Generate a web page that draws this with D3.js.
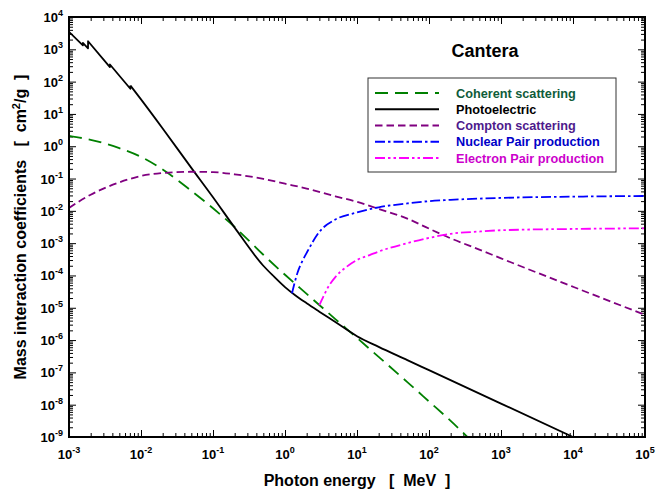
<!DOCTYPE html>
<html>
<head>
<meta charset="utf-8">
<script src="https://cdn.jsdelivr.net/npm/d3@7"></script>
<style>
  html, body { margin: 0; padding: 0; background: #fff; }
  svg { display: block; font-family: "Liberation Sans", Arial, sans-serif; }
</style>
</head>
<body>
<svg id="chart" width="666" height="492"></svg>
<script>
// ---------------- DATA ----------------
const title = "Cantera";
const xTickExps = [-3, -2, -1, 0, 1, 2, 3, 4, 5];
const yTickExps = [4, 3, 2, 1, 0, -1, -2, -3, -4, -5, -6, -7, -8, -9];

const coherentE = [1e-3, 2e-3, 5e-3, 0.01, 0.02, 0.05, 0.1, 0.2, 0.5, 1, 2, 5, 10, 20, 50, 100, 200, 500, 1000];
const coherentV = [2.09, 1.58, 0.871, 0.468, 0.191, 0.0417, 0.0120, 3.16e-3, 4.37e-4, 1.05e-4, 2.69e-5, 4.47e-6, 1.17e-6, 3.02e-7, 5.01e-8, 1.26e-8, 3.16e-9, 4.47e-10, 1.12e-10];

// absorption-edge part (drawn with straight segments)
const photoEdgeE = [1e-3, 1.559e-3, 1.5595e-3, 1.838e-3, 1.8395e-3, 3.7e-3, 3.702e-3, 7.11e-3, 7.113e-3];
const photoEdgeV = [3.47e3, 1.32e3, 1.58e3, 1.07e3, 1.78e3, 2.82e2, 3.39e2, 60.3, 75.9];
// smooth part
const photoE = [7.113e-3, 0.01, 0.02, 0.05, 0.1, 0.2, 0.5, 0.7, 1, 1.4, 2, 3, 5, 10, 20, 50, 100, 1000, 1e4, 1e5];
const photoV = [75.9, 28.2, 3.55, 0.214, 0.0263, 3.02e-3, 2.0e-4, 9.33e-5, 4.37e-5, 2.40e-5, 1.38e-5, 7.59e-6, 3.63e-6, 1.32e-6, 6.17e-7, 2.40e-7, 1.17e-7, 1.08e-8, 1.0e-9, 9.3e-11];

const comptonE = [1e-3, 2e-3, 5e-3, 0.01, 0.02, 0.05, 0.1, 0.2, 0.5, 1, 2, 5, 10, 20, 50, 100, 200, 500, 1000, 1e4, 1e5];
const comptonV = [0.0123, 0.0316, 0.0759, 0.120, 0.148, 0.162, 0.158, 0.135, 0.0977, 0.0692, 0.0490, 0.0282, 0.0191, 0.0115, 5.75e-3, 2.82e-3, 1.41e-3, 6.31e-4, 3.39e-4, 4.47e-5, 6.03e-6];

const nuclearE = [1.25, 1.5, 1.72, 2, 3, 5, 10, 20, 50, 100, 200, 1000, 1e4, 1e5];
const nuclearV = [2.82e-5, 1.26e-4, 2.63e-4, 5.01e-4, 2.24e-3, 5.37e-3, 8.91e-3, 0.0129, 0.0170, 0.0200, 0.0219, 0.0251, 0.0275, 0.0288];

const electronE = [3, 3.5, 4, 5, 7, 10, 15, 20, 50, 100, 200, 500, 1000, 1e4, 1e5];
const electronV = [1.2e-5, 2.51e-5, 4.47e-5, 8.91e-5, 1.78e-4, 3.02e-4, 4.27e-4, 5.50e-4, 1.0e-3, 1.45e-3, 1.95e-3, 2.29e-3, 2.51e-3, 2.75e-3, 2.88e-3];

const seriesNames = ["Coherent scattering", "Photoelectric", "Compton scattering", "Nuclear Pair production", "Electron Pair production"];

// ---------------- STYLE / LAYOUT ----------------
const series = [
  { name: seriesNames[0], parts: [[coherentE, coherentV, d3.curveMonotoneX]], color: "#008000", text: "#0f5c3a", dash: "13,7" },
  { name: seriesNames[1], parts: [[photoEdgeE, photoEdgeV, d3.curveLinear], [photoE, photoV, d3.curveMonotoneX]], color: "#000000", text: "#000000", dash: null },
  { name: seriesNames[2], parts: [[comptonE, comptonV, d3.curveMonotoneX]], color: "#800080", text: "#4e1a8c", dash: "7.5,4" },
  { name: seriesNames[3], parts: [[nuclearE, nuclearV, d3.curveMonotoneX]], color: "#0000ff", text: "#0000c8", dash: "10,3,2.5,3" },
  { name: seriesNames[4], parts: [[electronE, electronV, d3.curveMonotoneX]], color: "#ff00ff", text: "#cc00cc", dash: "10,3,2.5,3,2.5,3" }
];

const L = 69, R = 645, T = 17, B = 437;
const svg = d3.select("#chart");

const x = d3.scaleLog().domain([1e-3, 1e5]).range([L, R]);
const y = d3.scaleLog().domain([1e-9, 1e4]).range([B, T]);

const pow10 = e => +("1e" + e);
const majorX = xTickExps.map(pow10);
const minorX = [];
xTickExps.slice(0, -1).forEach(e => { for (let m = 2; m <= 9; m++) minorX.push(m * pow10(e)); });
const majorY = yTickExps.map(pow10);
const minorY = [];
yTickExps.slice(1).forEach(e => { for (let m = 2; m <= 9; m++) minorY.push(m * pow10(e)); });

// clip
svg.append("defs").append("clipPath").attr("id", "clip")
  .append("rect").attr("x", L).attr("y", T).attr("width", R - L).attr("height", B - T);

// ticks (inward on four sides)
function tickAxis(axisFn, scale, values, size, tx, ty) {
  const g = svg.append("g").attr("transform", `translate(${tx},${ty})`)
    .call(axisFn(scale).tickValues(values).tickSize(size).tickFormat(() => ""));
  g.select(".domain").remove();
  g.selectAll(".tick line").attr("stroke", "#000").attr("stroke-width", 1);
}
tickAxis(d3.axisBottom, x, majorX, -7, 0, B);
tickAxis(d3.axisBottom, x, minorX, -4, 0, B);
tickAxis(d3.axisTop, x, majorX, -7, 0, T);
tickAxis(d3.axisTop, x, minorX, -4, 0, T);
tickAxis(d3.axisLeft, y, majorY, -7, L, 0);
tickAxis(d3.axisLeft, y, minorY, -4, L, 0);
tickAxis(d3.axisRight, y, majorY, -7, R, 0);
tickAxis(d3.axisRight, y, minorY, -4, R, 0);

// curves
const plotG = svg.append("g").attr("clip-path", "url(#clip)");
series.forEach(s => {
  const d = s.parts.map(([E, V, curve]) =>
    d3.line().x(p => x(p[0])).y(p => y(p[1])).curve(curve)(E.map((e, i) => [e, V[i]]))
  ).join("");
  plotG.append("path")
    .attr("d", d)
    .attr("fill", "none")
    .attr("stroke", s.color)
    .attr("stroke-width", 1.8)
    .attr("stroke-linejoin", "round")
    .attr("stroke-dasharray", s.dash);
});

// frame
svg.append("rect").attr("x", L).attr("y", T).attr("width", R - L).attr("height", B - T)
  .attr("fill", "none").attr("stroke", "#000").attr("stroke-width", 2);

// tick labels
xTickExps.forEach(e => {
  const t = svg.append("text").attr("x", x(pow10(e))).attr("y", 459)
    .attr("text-anchor", "middle").attr("font-weight", "bold").attr("font-size", 13);
  t.append("tspan").text("10");
  t.append("tspan").attr("dy", -6).attr("font-size", 9).text(e);
});
yTickExps.forEach(e => {
  const t = svg.append("text").attr("x", 63).attr("y", y(pow10(e)) + 5)
    .attr("text-anchor", "end").attr("font-weight", "bold").attr("font-size", 13);
  t.append("tspan").text("10");
  t.append("tspan").attr("dy", -6).attr("font-size", 9).text(e);
});

// axis titles
svg.append("text").attr("x", (L + R) / 2).attr("y", 486)
  .attr("text-anchor", "middle").attr("font-weight", "bold").attr("font-size", 16)
  .style("white-space", "pre").text("Photon energy   [  MeV  ]");

const yt = svg.append("text")
  .attr("transform", `translate(26,${(T + B) / 2}) rotate(-90)`)
  .attr("text-anchor", "middle").attr("font-weight", "bold").attr("font-size", 16)
  .style("white-space", "pre");
yt.append("tspan").text("Mass interaction coefficients   [  cm");
yt.append("tspan").attr("dy", -6).attr("font-size", 11).text("2");
yt.append("tspan").attr("dy", 6).text("/g  ]");

// title
svg.append("text").attr("x", 485).attr("y", 57).attr("text-anchor", "middle")
  .attr("font-weight", "bold").attr("font-size", 18).text(title);

// legend
const lg = svg.append("g");
lg.append("rect").attr("x", 368).attr("y", 78).attr("width", 248).attr("height", 94)
  .attr("fill", "#fff").attr("stroke", "#333").attr("stroke-width", 1);
series.forEach((s, i) => {
  const cy = 93 + i * 16.25;
  lg.append("line").attr("x1", 375).attr("x2", 439).attr("y1", cy).attr("y2", cy)
    .attr("stroke", s.color).attr("stroke-width", 1.8).attr("stroke-dasharray", s.dash);
  lg.append("text").attr("x", 456).attr("y", cy + 4.5)
    .attr("font-weight", "bold").attr("font-size", 12.7).attr("fill", s.text).text(s.name);
});
</script>
</body>
</html>
